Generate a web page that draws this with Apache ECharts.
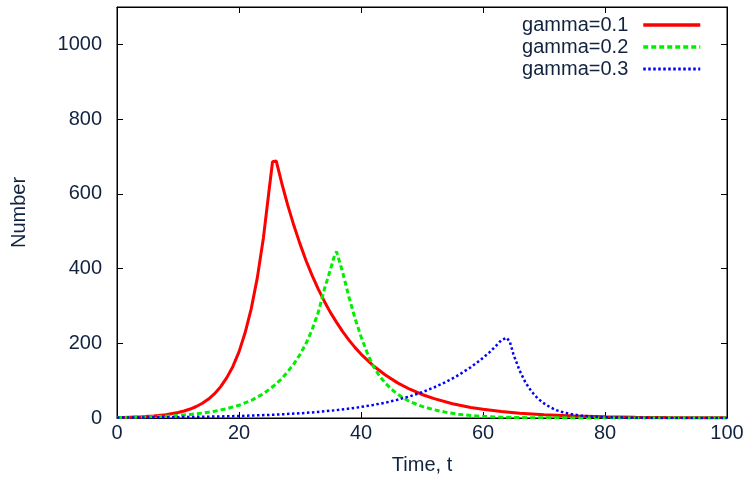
<!DOCTYPE html>
<html>
<head>
<meta charset="utf-8">
<script src="https://cdn.jsdelivr.net/npm/echarts@6/dist/echarts.min.js"></script>
<style>
html,body{margin:0;padding:0;background:#fff;}
#c{width:749px;height:481px;}
</style>
</head>
<body>
<div id="c"></div>
<script>
var seriesNames = ['gamma=0.1', 'gamma=0.2', 'gamma=0.3'];
var xTicks = [0, 20, 40, 60, 80, 100];
var yTicks = [0, 200, 400, 600, 800, 1000];

var tRed = [0,2,4,6,8,10,11,12,13,14,15,16,17,18,19,20,21,22,23,24,25,25.5,26.1,27,28,29,30,31,32,33,34,35,36,37,38,39,40,42,44,46,48,50,52,55,58,60,63,66,70,75,80,85,90,95,100];
var vRed = [1.2,2.0,3.2,5.4,8.8,14.6,18.7,24,30.8,39.5,50.8,65,84,108,138,177,228,292,375,482,619,686,688,629,569,515,466,421,381,345,312,282,256,231,209,189,171,140,115,94,77,63,52,38.3,28.3,23.2,17.2,12.7,8.5,5.2,3.1,1.9,1.1,0.7,0.4];

var tGreen = [0,2,4,6,8,10,12,14,16,18,20,22,24,25,26,27,28,29,30,31,32,33,34,35,35.7,36,37,38,39,40,41,42,43,44,45,46,47,48,50,52,54,56,58,60,63,66,70,80,90,100];
var vGreen = [1.4,1.9,2.7,3.7,5.0,6.9,9.6,13.2,18,25,34,47,65,77,90,105,124,145,170,200,237,283,345,398,438,445,390,325,268,218,175,139,113,93,77,64,53,44,31,22,15,10,6.5,4.3,2.3,1.2,0.5,0.1,0,0];

var tBlue = [0,5,10,15,20,25,30,33,36,39,42,44,46,48,50,52,54,56,58,59,60,61,62,63,63.3,63.9,64.4,65,66,67,68,69,70,71,72,73,74,75,76,78,80,85,90,100];
var vBlue = [1.0,1.5,2.3,3.5,5.4,8.2,12.6,16.2,21,27,35,41,49,58,69,82,97,115,136,148,161,175,191,208,213,215,204,170,127,94,70,52,39,29,21,16,12,9,6.5,3.5,2,0.5,0.1,0];

function pairs(t, v) { return t.map(function (x, i) { return [x, v[i]]; }); }

var txt = '#12223f';
var font = '"Liberation Sans", Helvetica, Arial, sans-serif';
var frame = { show: true, onZero: false, lineStyle: { color: '#000', width: 1 } };
var tick = { show: true, inside: true, length: 6, lineStyle: { color: '#000', width: 1 } };

var chart = echarts.init(document.getElementById('c'), null, { renderer: 'canvas' });
chart.setOption({
  backgroundColor: '#fff',
  animation: false,
  textStyle: { fontFamily: font },
  grid: { left: 117, right: 22, top: 7, bottom: 63, containLabel: false,
    show: true, borderColor: '#000', borderWidth: 1, backgroundColor: 'transparent' },
  legend: {
    data: [
      { name: seriesNames[0], lineStyle: { width: 3.5 } },
      { name: seriesNames[1], lineStyle: { width: 3.5 } },
      { name: seriesNames[2], lineStyle: { width: 3 } }
    ],
    orient: 'vertical',
    align: 'right',
    right: 42,
    top: 10,
    itemWidth: 57,
    itemHeight: 12,
    itemGap: 2,
    itemStyle: { opacity: 0 },
    textStyle: { fontSize: 20, color: txt, fontFamily: font, lineHeight: 20, padding: [0, 10, 0, 0] }
  },
  xAxis: [{
    type: 'value', min: xTicks[0], max: xTicks[xTicks.length - 1], interval: xTicks[1] - xTicks[0],
    name: 'Time, t', nameLocation: 'middle', nameGap: 37,
    nameTextStyle: { fontSize: 20, color: txt, fontFamily: font },
    axisLine: frame, axisTick: tick, splitLine: { show: false },
    axisLabel: { fontSize: 20, color: txt, margin: 5, fontFamily: font }
  }, {
    type: 'value', position: 'top', min: xTicks[0], max: xTicks[xTicks.length - 1], interval: xTicks[1] - xTicks[0],
    axisLine: frame, axisTick: tick, splitLine: { show: false }, axisLabel: { show: false }
  }],
  yAxis: [{
    type: 'value', min: 0, max: 1100, interval: yTicks[1] - yTicks[0],
    name: 'Number', nameLocation: 'middle', nameGap: 88, nameRotate: 90,
    nameTextStyle: { fontSize: 20, color: txt, fontFamily: font },
    axisLine: frame, axisTick: tick, splitLine: { show: false },
    axisLabel: { fontSize: 20, color: txt, margin: 15, fontFamily: font,
      formatter: function (v) { return yTicks.indexOf(v) >= 0 ? String(v) : ''; } }
  }, {
    type: 'value', position: 'right', min: 0, max: 1100, interval: yTicks[1] - yTicks[0],
    axisLine: frame, axisTick: tick, splitLine: { show: false }, axisLabel: { show: false }
  }],
  series: [{
    name: seriesNames[0], type: 'line', data: pairs(tRed, vRed), showSymbol: false, symbol: 'none',
    lineStyle: { color: '#ff0000', width: 3 }, itemStyle: { color: '#ff0000' }
  }, {
    name: seriesNames[1], type: 'line', data: pairs(tGreen, vGreen), showSymbol: false, symbol: 'none',
    lineStyle: { color: '#00ee00', width: 3, type: [5, 3] }, itemStyle: { color: '#00ee00' }
  }, {
    name: seriesNames[2], type: 'line', data: pairs(tBlue, vBlue), showSymbol: false, symbol: 'none',
    lineStyle: { color: '#0000ff', width: 2.5, type: [2.5, 2.5] }, itemStyle: { color: '#0000ff' }
  }, {
    name: 'mirror', type: 'line', xAxisIndex: 1, yAxisIndex: 1, data: [], silent: true,
    showSymbol: false, symbol: 'none', lineStyle: { opacity: 0 }
  }]
});
</script>
</body>
</html>
